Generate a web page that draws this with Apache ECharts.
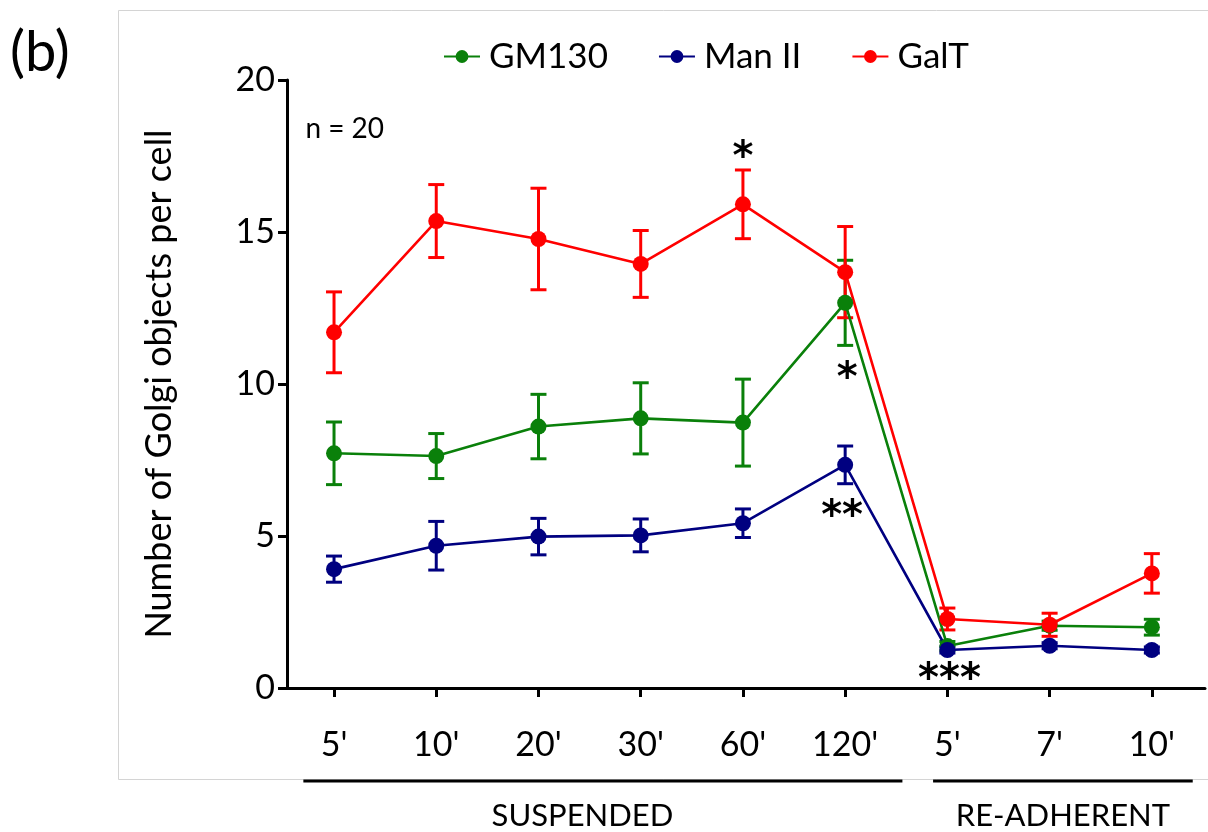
<!DOCTYPE html>
<html><head><meta charset="utf-8">
<script src="https://cdn.jsdelivr.net/npm/echarts@6/dist/echarts.min.js"></script>
<style>html,body{margin:0;padding:0;background:#fff}#c{width:1208px;height:832px}</style>
</head><body><div id="c"></div>
<script>
const categories = ["5'", "10'", "20'", "30'", "60'", "120'", "5'", "7'", "10'"];
const yTicks = [0, 5, 10, 15, 20];
const gm130 = [7.72, 7.63, 8.6, 8.87, 8.73, 12.67, 1.38, 2.05, 2.0];
const gm130Err = [1.03, 0.74, 1.06, 1.17, 1.43, 1.4, 0.15, 0.15, 0.26];
const man2 = [3.91, 4.68, 4.98, 5.02, 5.42, 7.34, 1.25, 1.39, 1.25];
const man2Err = [0.43, 0.8, 0.6, 0.54, 0.47, 0.62, 0.1, 0.1, 0.1];
const galt = [11.7, 15.36, 14.77, 13.95, 15.91, 13.68, 2.27, 2.08, 3.77];
const galtErr = [1.33, 1.2, 1.67, 1.1, 1.13, 1.5, 0.36, 0.38, 0.65];
const groups = [
  {name: 'SUSPENDED', from: -0.3, to: 5.56, labelAt: 2.43},
  {name: 'RE-ADHERENT', from: 5.86, to: 8.4, labelAt: 7.13}
];
const stars = [
  {x: 4, y: 17.4, text: '*'},
  {x: 5.02, y: 10.15, text: '*'},
  {x: 4.97, y: 5.6, text: '**'},
  {x: 6.02, y: 0.25, text: '***'}
];
const noteText = 'n = 20';

const FONT = 'Lato, "Open Sans", sans-serif';
const colors = {GM130: '#0a800a', 'Man II': '#000080', GalT: '#ff0000'};

function lineSeries(name, vals) {
  return {
    name: name, type: 'line', data: vals.map((v, i) => [i, v]),
    symbol: 'circle', symbolSize: 16,
    itemStyle: {color: colors[name]},
    lineStyle: {color: colors[name], width: 2.6},
    z: 3
  };
}
function errSeries(name, vals, errs) {
  return {
    name: name, type: 'custom',
    itemStyle: {color: colors[name]},
    data: vals.map((v, i) => [i, v - errs[i], v + errs[i]]),
    renderItem: function (params, api) {
      const lo = api.coord([api.value(0), api.value(1)]);
      const hi = api.coord([api.value(0), api.value(2)]);
      const hw = 8;
      const st = {stroke: colors[name], lineWidth: 3};
      return {type: 'group', children: [
        {type: 'line', shape: {x1: lo[0], y1: lo[1], x2: hi[0], y2: hi[1]}, style: st},
        {type: 'line', shape: {x1: lo[0] - hw, y1: lo[1], x2: lo[0] + hw, y2: lo[1]}, style: st},
        {type: 'line', shape: {x1: hi[0] - hw, y1: hi[1], x2: hi[0] + hw, y2: hi[1]}, style: st}
      ]};
    },
    z: 3
  };
}

const chart = echarts.init(document.getElementById('c'));
const tickVals = categories.map((c, i) => i);
const option = {
  animation: false,
  backgroundColor: '#fff',
  textStyle: {fontFamily: FONT},
  legend: {
    top: 34, left: 438, itemWidth: 36, itemHeight: 16, itemGap: 50,
    data: ['GM130', 'Man II', 'GalT'],
    textStyle: {fontSize: 35, color: '#000', fontFamily: FONT, padding: [0, 0, 0, 4]}
  },
  grid: {left: 287, right: 3, top: 80, bottom: 144, containLabel: false},
  xAxis: {
    type: 'value', min: -0.46, max: 8.52,
    axisLine: {show: true, onZero: false, lineStyle: {color: '#000', width: 3}},
    axisTick: {show: true, customValues: tickVals, length: 9, lineStyle: {color: '#000', width: 3}},
    axisLabel: {show: true, customValues: tickVals, formatter: v => categories[Math.round(v)], fontSize: 34, color: '#000', margin: 40, fontFamily: FONT},
    splitLine: {show: false}
  },
  yAxis: {
    type: 'value', min: 0, max: 20, interval: 5,
    name: 'Number of Golgi objects per cell', nameLocation: 'middle', nameGap: 110,
    nameTextStyle: {fontSize: 36, color: '#000', fontFamily: FONT},
    axisLine: {show: true, onZero: false, lineStyle: {color: '#000', width: 3}},
    axisTick: {show: true, length: 9, lineStyle: {color: '#000', width: 3}},
    axisLabel: {fontSize: 34, color: '#000', margin: 12, fontFamily: FONT},
    splitLine: {show: false}
  },
  series: [
    lineSeries('GM130', gm130), lineSeries('Man II', man2), lineSeries('GalT', galt),
    errSeries('GM130', gm130, gm130Err), errSeries('Man II', man2, man2Err), errSeries('GalT', galt, galtErr)
  ],
  graphic: []
};
chart.setOption(option);

// decorations positioned from the axis scale
const px = (x, y) => chart.convertToPixel({gridIndex: 0}, [x, y]);
const g = [];
g.push({type: 'rect', shape: {x: 118.5, y: 10.5, width: 1100, height: 769}, style: {fill: 'none', stroke: '#d4d4d4', lineWidth: 1}, z: -1});
g.push({type: 'text', x: 10, y: 53, style: {text: '(b)', fontSize: 56, fontFamily: FONT, fill: '#000', verticalAlign: 'middle'}});
const np = px(-0.28, 18.4);
g.push({type: 'text', x: np[0], y: np[1], style: {text: noteText, fontSize: 28, fontFamily: FONT, fill: '#000', verticalAlign: 'middle'}});
stars.forEach(s => {
  const p = px(s.x, s.y);
  g.push({type: 'text', x: p[0], y: p[1], z: 10, style: {text: s.text, fontSize: 40, fontWeight: 'bold', fontFamily: 'DejaVu Sans', fill: '#000', textAlign: 'center', verticalAlign: 'middle'}});
});
groups.forEach(gr => {
  const a = px(gr.from, 0);
  const b = px(gr.to, 0);
  const c = px(gr.labelAt, 0);
  const y = 781;
  g.push({type: 'line', shape: {x1: a[0], y1: y, x2: b[0], y2: y}, style: {stroke: '#000', lineWidth: 3}});
  g.push({type: 'text', x: c[0], y: 816, style: {text: gr.name, fontSize: 31, fontFamily: FONT, fill: '#000', textAlign: 'center', verticalAlign: 'middle'}});
});
chart.setOption({graphic: g});
</script></body></html>
